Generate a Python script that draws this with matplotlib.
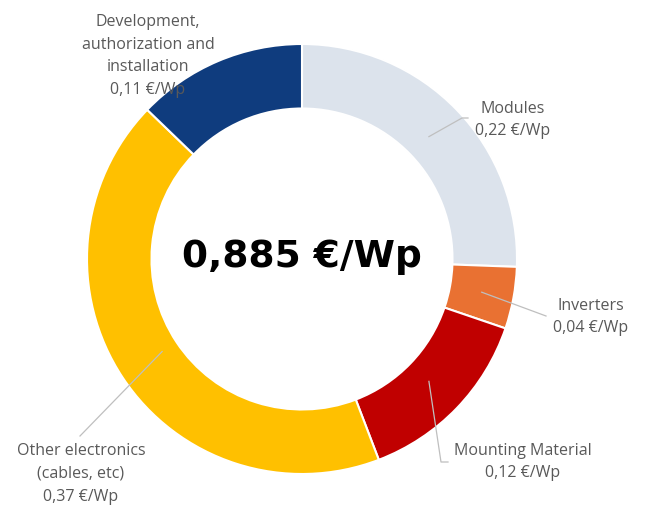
import matplotlib.pyplot as plt
import numpy as np

# data
names = ['Modules', 'Inverters', 'Mounting Material', 'Other electronics\n(cables, etc)',
         'Development,\nauthorization and\ninstallation']
costs = [0.22, 0.04, 0.12, 0.37, 0.11]
total_label = '0,885 €/Wp'
colors = ['#DCE3EC', '#E97132', '#C00000', '#FFC000', '#0F3C7E']

fig = plt.figure(figsize=(6.46, 5.08), dpi=100)
ax = fig.add_axes([0, 0, 1, 1])

# pixel -> data helper (centre of donut at 302,259 px, radius 215 px)
cx, cy, R = 302, 259, 215
def px(x, y):
    return ((x - cx) / R, (cy - y) / R)

wedges, _ = ax.pie(costs, colors=colors, startangle=90, counterclock=False, radius=1,
                   wedgeprops=dict(width=0.30, edgecolor='white', linewidth=1.5))

ax.set_xlim(-cx / R, (646 - cx) / R)
ax.set_ylim(-(508 - cy) / R, cy / R)
ax.set_aspect('equal')
ax.axis('off')

ax.text(0, 0.01, total_label, ha='center', va='center', fontsize=27, fontweight='bold',
        family='DejaVu Sans', color='black')

# labels
fmt = lambda v: f"{v:.2f}".replace('.', ',') + ' €/Wp'
label_pos = [(513, 120), (591, 317), (523, 462), (81, 474), (148, 56)]
leader_end = [[(462, 118), (468, 118)], [(546, 316)], [(441, 462), (448, 462)],
              [(80, 436)], None]
leader_r = [0.82, 0.85, 0.82, 0.78, None]

for w, n, v, lp, le, lr in zip(wedges, names, costs, label_pos, leader_end, leader_r):
    x, y = px(*lp)
    ax.text(x, y, n + '\n' + fmt(v), ha='center', va='center', fontsize=11.5,
            family='Open Sans', color='#595959', linespacing=1.55)
    if le is None:
        continue
    ang = np.deg2rad((w.theta1 + w.theta2) / 2)
    pts = [(lr * np.cos(ang), lr * np.sin(ang))] + [px(*p) for p in le]
    xs, ys = zip(*pts)
    ax.plot(xs, ys, color='#BFBFBF', linewidth=0.9)

plt.savefig('out.png', dpi=100)
